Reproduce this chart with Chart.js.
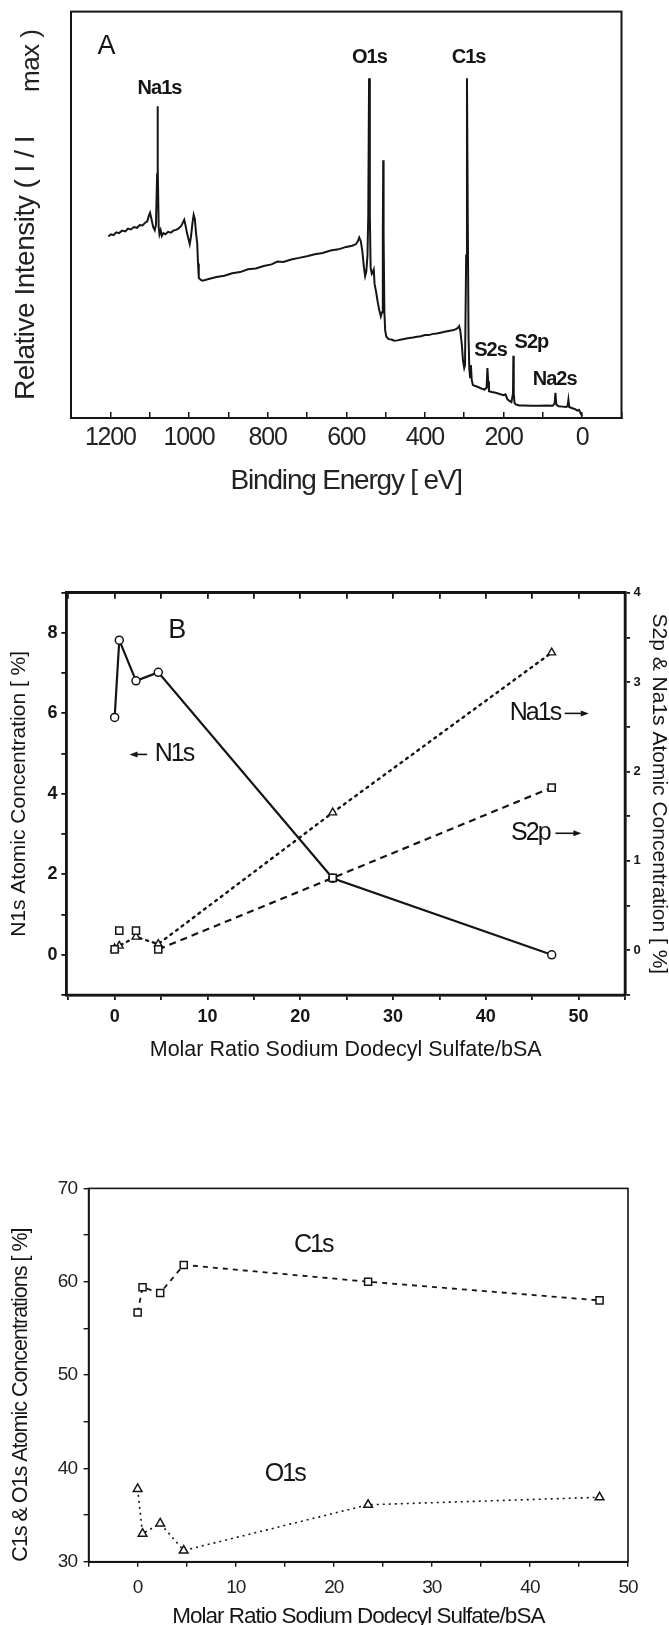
<!DOCTYPE html>
<html>
<head>
<meta charset="utf-8">
<script src="https://cdn.jsdelivr.net/npm/chart.js@4.4.1/dist/chart.umd.min.js"></script>
<style>
  html, body { margin: 0; padding: 0; background: #fff; overflow: hidden; }
  #page { position: relative; width: 669px; height: 1625px; }
  canvas { position: absolute; left: 0; }
  #specChart { top: 0; }
  #n1sChart { top: 560px; }
  #c1sChart { top: 1100px; }
</style>
</head>
<body>
<div id="page">
  <canvas id="specChart" width="669" height="520"></canvas>
  <canvas id="n1sChart" width="669" height="520"></canvas>
  <canvas id="c1sChart" width="669" height="540"></canvas>
</div>
<script>
// panel A: XPS survey spectrum
const energy = [
  1205, 1198, 1192, 1185, 1178, 1170, 1162, 1155, 1148, 1140,
  1132, 1125, 1118, 1112, 1106, 1102, 1099, 1095, 1091, 1087,
  1084, 1081, 1080, 1079, 1077, 1075, 1072, 1069, 1065, 1060,
  1053, 1046, 1040, 1033, 1027, 1020, 1015, 1012, 1009, 1005,
  1001, 998, 995, 991, 988, 985, 982, 979, 977, 975,
  970, 965, 950, 930, 910, 890, 870, 850, 830, 810,
  790, 775, 760, 740, 720, 700, 680, 660, 640, 620,
  600, 585, 575, 570, 567, 563, 559, 555, 552, 549,
  546, 544, 542, 540, 538, 535, 532, 530, 528, 524,
  520, 516, 512, 509, 507, 506, 505, 503, 501, 498,
  492, 485, 478, 470, 460, 450, 440, 430, 420, 410,
  400, 390, 380, 370, 360, 350, 340, 330, 322, 316,
  313, 310, 306, 303, 300, 298, 295, 293, 291, 289,
  287, 285, 283, 281, 278, 270, 262, 255, 248, 243,
  241, 239, 237, 230, 220, 210, 200, 195, 190, 185,
  180, 176, 175, 174, 172, 168, 160, 150, 130, 110,
  90, 75, 70, 68, 66, 60, 50, 40, 37, 35,
  33, 25, 18, 12, 8, 4, 0
];
const intensity = [
  .447, .452, .450, .457, .455, .461, .459, .466, .464, .470,
  .468, .475, .474, .480, .484, .498, .505, .488, .470, .462,
  .475, .600, .767, .620, .470, .452, .462, .448, .455, .452,
  .458, .456, .461, .463, .466, .472, .482, .488, .475, .455,
  .440, .428, .445, .480, .500, .490, .455, .430, .380, .345,
  .340, .338, .342, .347, .350, .356, .359, .366, .368, .374,
  .378, .385, .384, .390, .394, .398, .403, .406, .412, .415,
  .421, .424, .428, .436, .444, .435, .410, .370, .349, .360,
  .400, .500, .836, .500, .370, .355, .360, .365, .330, .310,
  .285, .265, .250, .260, .450, .634, .450, .260, .215, .200,
  .194, .193, .190, .191, .193, .195, .197, .198, .200, .201,
  .204, .204, .207, .208, .210, .212, .214, .216, .218, .222,
  .226, .215, .180, .140, .123, .130, .400, .836, .500, .200,
  .120, .100, .130, .095, .081, .078, .075, .072, .070, .075,
  .123, .090, .066, .064, .062, .059, .056, .058, .046, .042,
  .039, .060, .153, .060, .037, .033, .031, .031, .030, .030,
  .031, .030, .036, .062, .034, .029, .028, .027, .030, .045,
  .027, .024, .022, .018, .020, .012, .005
];

// panels B and C: molar ratio sodium dodecyl sulfate / bSA
const ratio = [0, 0.5, 2.3, 4.7, 23.5, 47.1];
const n1s = [5.9, 7.82, 6.81, 7.02, 1.9, 0];
const na1s = [0.02, 0.05, 0.15, 0.07, 1.54, 3.33];
const s2p = [0.01, 0.22, 0.22, 0.01, 0.81, 1.82];
const c1s = [56.7, 59.4, 58.8, 61.8, 60.0, 58.0];
const o1s = [37.8, 33.0, 34.1, 31.2, 36.1, 36.9];

const SANS = '"Liberation Sans", Arial, sans-serif';
const INK = '#151515';

function pairs(xs, ys) {
  return xs.map((x, i) => ({ x, y: ys[i] }));
}

// tighter letter spacing for everything drawn on one canvas
function tighten(px) {
  return {
    id: 'tighten',
    beforeDraw(chart) { chart.ctx.letterSpacing = px + 'px'; }
  };
}

// full box around the plot area
function boxFrame(width) {
  return {
    id: 'boxFrame',
    afterDraw(chart) {
      const a = chart.chartArea, ctx = chart.ctx;
      ctx.save();
      ctx.lineWidth = width;
      ctx.strokeStyle = INK;
      ctx.strokeRect(a.left, a.top, a.right - a.left, a.bottom - a.top);
      ctx.restore();
    }
  };
}

// text labels and arrows placed in data units
function notes(list, xId, yId) {
  return {
    id: 'notes',
    afterDatasetsDraw(chart) {
      const ctx = chart.ctx, xs = chart.scales[xId], ys = chart.scales[yId];
      ctx.save();
      ctx.fillStyle = INK;
      ctx.strokeStyle = INK;
      ctx.textAlign = 'center';
      ctx.textBaseline = 'middle';
      list.forEach(n => {
        const py = ys.getPixelForValue(n.y);
        if (n.text) {
          ctx.font = n.font;
          ctx.letterSpacing = (n.ls || 0) + 'px';
          ctx.fillText(n.text, xs.getPixelForValue(n.x), py);
        } else {
          const x1 = xs.getPixelForValue(n.x1), x2 = xs.getPixelForValue(n.x2);
          const dir = Math.sign(x2 - x1);
          ctx.lineWidth = 1.6;
          ctx.beginPath();
          ctx.moveTo(x1, py);
          ctx.lineTo(x2 - dir * 6, py);
          ctx.stroke();
          ctx.beginPath();
          ctx.moveTo(x2, py);
          ctx.lineTo(x2 - dir * 8, py - 3);
          ctx.lineTo(x2 - dir * 8, py + 3);
          ctx.closePath();
          ctx.fill();
        }
      });
      ctx.restore();
    }
  };
}

const common = {
  responsive: false,
  animation: false,
  events: [],
  plugins: { legend: { display: false }, tooltip: { enabled: false } }
};

// ---------- A: survey spectrum ----------
const intensityTitle = {
  id: 'intensityTitle',
  afterDraw(chart) {
    const ctx = chart.ctx;
    ctx.save();
    ctx.translate(26, 400);
    ctx.rotate(-Math.PI / 2);
    ctx.fillStyle = '#222';
    ctx.textBaseline = 'middle';
    ctx.textAlign = 'left';
    ctx.letterSpacing = '-0.5px';
    ctx.font = '28px ' + SANS;
    ctx.fillText('Relative Intensity ( I / I', 0, 0);
    ctx.font = '26px ' + SANS;
    ctx.fillText('max )', 308, 6);
    ctx.restore();
  }
};

const boldTag = 'bold 20px ' + SANS;
new Chart(document.getElementById('specChart'), {
  type: 'line',
  data: {
    datasets: [{
      data: pairs(energy, intensity),
      borderColor: INK,
      borderWidth: 2,
      pointRadius: 0,
      tension: 0
    }]
  },
  options: {
    ...common,
    layout: { padding: { left: 71, right: 47.5, top: 11.6, bottom: 0 } },
    scales: {
      x: {
        type: 'linear', reverse: true, min: -100, max: 1300,
        afterFit: s => { s.height = 102; },
        border: { display: true, color: INK, width: 2 },
        grid: { drawOnChartArea: false, tickLength: -6, color: INK, lineWidth: 1.5 },
        ticks: {
          stepSize: 100, includeBounds: false, maxRotation: 0, autoSkip: false,
          padding: 11, color: '#222',
          font: { family: SANS, size: 25 },
          callback: v => (v % 200 === 0 && v >= 0 && v <= 1200 ? String(v) : '')
        },
        title: {
          display: true, text: 'Binding Energy [ eV]', color: '#222',
          font: { family: SANS, size: 28 }, padding: { top: 0, bottom: 21.6 }
        }
      },
      y: { type: 'linear', display: false, min: 0, max: 1 }
    }
  },
  plugins: [tighten(-1.2), boxFrame(2), intensityTitle, notes([
    { text: 'A', x: 1210, y: 0.913, font: '27px ' + SANS },
    { text: 'Na1s', x: 1075, y: 0.812, font: boldTag, ls: -1 },
    { text: 'O1s', x: 541, y: 0.886, font: boldTag, ls: -1 },
    { text: 'C1s', x: 289, y: 0.886, font: boldTag, ls: -1 },
    { text: 'S2s', x: 233, y: 0.167, font: boldTag, ls: -1 },
    { text: 'S2p', x: 129, y: 0.187, font: boldTag, ls: -1 },
    { text: 'Na2s', x: 70, y: 0.094, font: boldTag, ls: -1 }
  ], 'x', 'y')]
});

// ---------- B: N1s, Na1s, S2p ----------
const ratioTitle = 'Molar Ratio Sodium Dodecyl Sulfate/bSA';
new Chart(document.getElementById('n1sChart'), {
  type: 'line',
  data: {
    datasets: [
      {
        label: 'S2p', yAxisID: 'y2', data: pairs(ratio, s2p),
        borderColor: INK, borderWidth: 2.2, borderDash: [7, 5],
        segment: { borderColor: c => (c.p0DataIndex < 3 ? 'rgba(0,0,0,0)' : INK) },
        pointStyle: 'rect', pointRadius: 5, pointBorderWidth: 1.5,
        pointBorderColor: INK, pointBackgroundColor: '#fff'
      },
      {
        label: 'Na1s', yAxisID: 'y2', data: pairs(ratio, na1s),
        borderColor: INK, borderWidth: 2.4, borderDash: [2, 5], borderCapStyle: 'round',
        pointStyle: 'triangle', pointRadius: 4.5, pointBorderWidth: 1.4,
        pointBorderColor: INK, pointBackgroundColor: '#fff'
      },
      {
        label: 'N1s', yAxisID: 'y', data: pairs(ratio, n1s),
        borderColor: INK, borderWidth: 2.2,
        pointStyle: 'circle', pointRadius: 4, pointBorderWidth: 1.5,
        pointBorderColor: INK, pointBackgroundColor: '#fff'
      }
    ]
  },
  options: {
    ...common,
    layout: { padding: 0 },
    scales: {
      x: {
        type: 'linear', position: 'bottom', min: -5.2, max: 55,
        afterFit: s => { s.height = 85; },
        border: { display: true, color: INK, width: 2.5 },
        grid: { drawOnChartArea: false, tickLength: 5, color: INK, lineWidth: 1.8 },
        ticks: {
          stepSize: 5, includeBounds: false, maxRotation: 0, autoSkip: false,
          padding: 6, color: INK, font: { family: SANS, size: 18, weight: 'bold' },
          callback: v => (v % 10 === 0 && v >= 0 ? String(v) : '')
        },
        title: {
          display: true, text: ratioTitle, color: INK,
          font: { family: SANS, size: 21.5 }, padding: { top: 0, bottom: 17.5 }
        }
      },
      x2: {
        type: 'linear', position: 'top', min: -5.2, max: 55,
        afterFit: s => { s.height = 32.7; },
        border: { display: true, color: INK, width: 2.5 },
        grid: { drawOnChartArea: false, tickLength: -6, color: INK, lineWidth: 1.8 },
        ticks: { stepSize: 5, includeBounds: false, display: false }
      },
      y: {
        type: 'linear', position: 'left', min: -1, max: 9,
        afterFit: s => { s.width = 66.4; },
        border: { display: true, color: INK, width: 2.5 },
        grid: { drawOnChartArea: false, tickLength: 5, color: INK, lineWidth: 1.8 },
        ticks: {
          stepSize: 1, includeBounds: false, autoSkip: false, padding: 4,
          color: INK, font: { family: SANS, size: 18, weight: 'bold' },
          callback: v => (v % 2 === 0 && v >= 0 ? String(v) : '')
        },
        title: {
          display: true, text: 'N1s Atomic Concentration [ %]', color: INK,
          font: { family: SANS, size: 21 }, padding: { top: 6.4, bottom: 0 }
        }
      },
      y2: {
        type: 'linear', position: 'right', min: -0.5, max: 4,
        afterFit: s => { s.width = 44; },
        border: { display: true, color: INK, width: 2.5 },
        grid: { drawOnChartArea: false, tickLength: 5, color: INK, lineWidth: 1.8 },
        ticks: {
          stepSize: 0.5, includeBounds: false, autoSkip: false, padding: 3.5,
          color: INK, font: { family: SANS, size: 13, weight: 'bold' },
          callback: v => (Number.isInteger(v) && v >= 0 ? String(v) : '')
        },
        title: {
          display: true, text: 'S2p & Na1s Atomic Concentration [ %]', color: INK,
          font: { family: SANS, size: 21, lineHeight: 1 }, padding: { top: 0, bottom: 0 }
        }
      }
    }
  },
  plugins: [boxFrame(2.5), notes([
    { text: 'B', x: 6.7, y: 8.06, font: '27px ' + SANS, ls: -1 },
    { text: 'N1s', x: 6.4, y: 4.98, font: '25px ' + SANS, ls: -2 },
    { x1: 3.5, x2: 1.6, y: 4.98 },
    { text: 'Na1s', x: 45.3, y: 6.0, font: '25px ' + SANS, ls: -2 },
    { x1: 48.5, x2: 51.1, y: 6.0 },
    { text: 'S2p', x: 44.8, y: 3.02, font: '25px ' + SANS, ls: -2 },
    { x1: 47.5, x2: 50.3, y: 3.02 }
  ], 'x', 'y')]
});

// ---------- C: C1s and O1s ----------
new Chart(document.getElementById('c1sChart'), {
  type: 'line',
  data: {
    datasets: [
      {
        label: 'C1s', data: pairs(ratio, c1s),
        borderColor: INK, borderWidth: 1.8, borderDash: [5, 5],
        pointStyle: 'rect', pointRadius: 5, pointBorderWidth: 1.5,
        pointBorderColor: INK, pointBackgroundColor: '#fff'
      },
      {
        label: 'O1s', data: pairs(ratio, o1s),
        borderColor: INK, borderWidth: 1.6, borderDash: [2, 4],
        pointStyle: 'triangle', pointRadius: 5, pointBorderWidth: 1.5,
        pointBorderColor: INK, pointBackgroundColor: '#fff'
      }
    ]
  },
  options: {
    ...common,
    layout: { padding: { left: 0, right: 41, top: 88.4, bottom: 0 } },
    scales: {
      x: {
        type: 'linear', min: -5, max: 50,
        afterFit: s => { s.height = 78.3; },
        border: { display: true, color: INK, width: 2 },
        grid: { drawOnChartArea: false, tickLength: 5, color: INK, lineWidth: 1.4 },
        ticks: {
          stepSize: 5, includeBounds: false, maxRotation: 0, autoSkip: false,
          padding: 9.9, color: '#222', font: { family: SANS, size: 19 },
          callback: v => (v % 10 === 0 && v >= 0 ? String(v) : '')
        },
        title: {
          display: true, text: ratioTitle, color: INK,
          font: { family: SANS, size: 22.5 }, padding: { top: 0, bottom: 10 }
        }
      },
      y: {
        type: 'linear', min: 30, max: 70,
        afterFit: s => { s.width = 88.6; },
        border: { display: true, color: INK, width: 1.8 },
        grid: { drawOnChartArea: false, tickLength: 5, color: INK, lineWidth: 1.4 },
        ticks: {
          stepSize: 5, includeBounds: false, autoSkip: false, padding: 6.6,
          color: '#222', font: { family: SANS, size: 19 },
          callback: v => (v % 10 === 0 ? String(v) : '')
        },
        title: {
          display: true, align: 'start', text: 'C1s & O1s Atomic Concentrations [ %]', color: INK,
          font: { family: SANS, size: 21.5 }, padding: { top: 8, bottom: 0 }
        }
      }
    }
  },
  plugins: [tighten(-1), boxFrame(1.6), notes([
    { text: 'C1s', x: 17.9, y: 63.9, font: '25px ' + SANS, ls: -2 },
    { text: 'O1s', x: 15.0, y: 39.4, font: '25px ' + SANS, ls: -2 }
  ], 'x', 'y')]
});
</script>
</body>
</html>
